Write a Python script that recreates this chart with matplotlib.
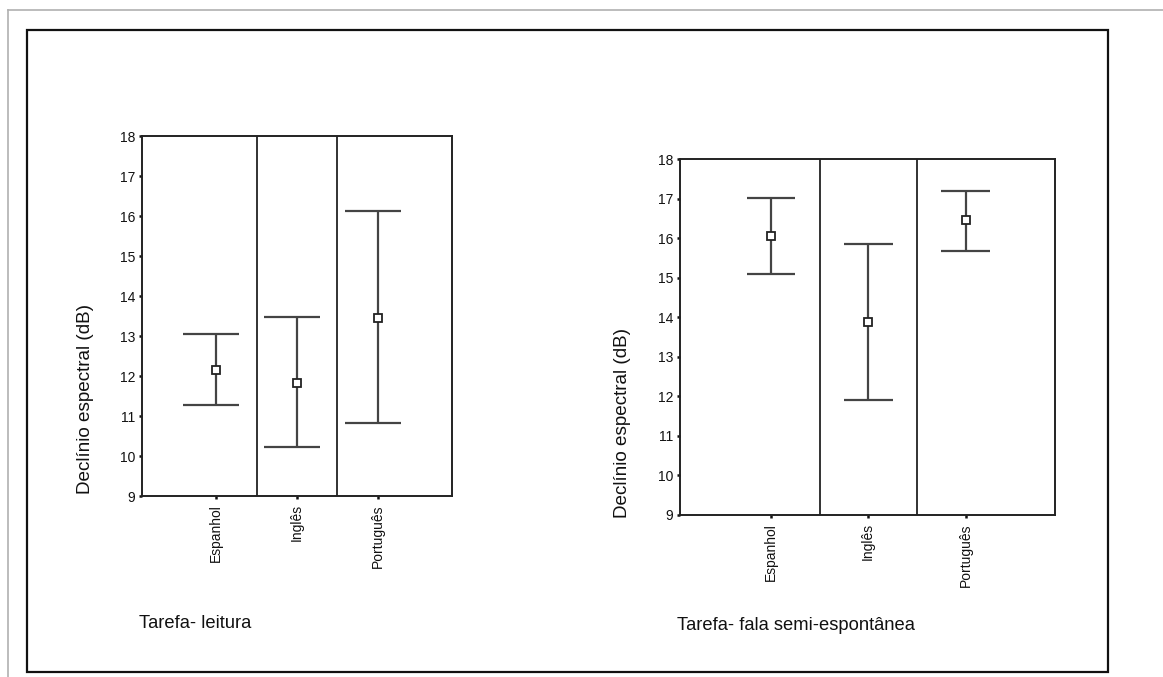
import matplotlib
matplotlib.use("Agg")
import matplotlib.pyplot as plt
from matplotlib.lines import Line2D

plt.rcParams['font.family'] = ['Liberation Sans', 'DejaVu Sans']

categories = ["Espanhol", "Inglês", "Português"]
yticks = [9, 10, 11, 12, 13, 14, 15, 16, 17, 18]

# Tarefa- leitura
leit_mean = [12.15, 11.83, 13.45]
leit_low = [11.28, 10.22, 10.82]
leit_high = [13.04, 13.48, 16.12]

# Tarefa- fala semi-espontânea
fala_mean = [16.05, 13.88, 16.46]
fala_low = [15.09, 11.91, 15.68]
fala_high = [17.03, 15.85, 17.20]

captions = ["Tarefa- leitura", "Tarefa- fala semi-espontânea"]
ylabel = "Declínio espectral (dB)"

W, H = 1163, 677
fig = plt.figure(figsize=(W / 100, H / 100), dpi=100)

# page frames
fig.add_artist(Line2D([8 / W, 1], [1 - 10 / H, 1 - 10 / H], transform=fig.transFigure,
                      color="#b0b0b0", lw=1.2))
fig.add_artist(Line2D([8 / W, 8 / W], [0, 1 - 10 / H], transform=fig.transFigure,
                      color="#b0b0b0", lw=1.2))
fig.add_artist(plt.Rectangle((27 / W, 1 - 672 / H), (1108 - 27) / W, (672 - 30) / H,
                             transform=fig.transFigure, fill=False, ec="#111111", lw=1.6))

ec = "#444444"


def panel(rect, means, lows, highs, cap_l, cap_r, xlim, lab_xy, caption, cap_xy):
    ax = fig.add_axes(rect)
    x = list(range(1, len(categories) + 1))
    ax.vlines(x, lows, highs, color=ec, lw=1.6)
    ax.hlines(lows, [v - cap_l for v in x], [v + cap_r for v in x], color=ec, lw=1.6)
    ax.hlines(highs, [v - cap_l for v in x], [v + cap_r for v in x], color=ec, lw=1.6)
    ax.plot(x, means, ls="none", marker="s", ms=5.5, mfc="white", mec="#222222", mew=1.3, zorder=3)
    for d in [1.5, 2.5]:
        ax.axvline(d, color="#222222", lw=1.3)
    ax.set_xlim(*xlim)
    ax.set_ylim(9, 18)
    ax.set_yticks(yticks)
    ax.set_yticklabels([str(t) for t in yticks])
    ax.set_xticks(x)
    ax.set_xticklabels(categories, rotation=90, va="top", ha="center")
    ax.tick_params(axis="y", direction="out", length=2.5, width=1.8, pad=2.5,
                   labelsize=10, colors="#111111")
    ax.tick_params(axis="x", direction="out", length=2.5, width=1.8, pad=3.5,
                   labelsize=10, colors="#111111")
    for s in ax.spines.values():
        s.set_linewidth(1.4)
        s.set_color("#222222")
    ax.set_ylabel(ylabel, fontsize=13.6, color="#111111")
    ax.yaxis.set_label_coords(*lab_xy)
    fig.text(cap_xy[0] / W, 1 - cap_xy[1] / H, caption, fontsize=13.2, color="#111111",
             ha="left", va="center")
    return ax


panel([142 / W, 1 - 496 / H, 310 / W, 360 / H], leit_mean, leit_low, leit_high,
      0.41, 0.28, (0.086, 3.914), (-0.155, 0.27), captions[0], (139, 623))
panel([680 / W, 1 - 515 / H, 375 / W, 355.7 / H], fala_mean, fala_low, fala_high,
      0.25, 0.25, (0.065, 3.92), (-0.13, 0.26), captions[1], (677, 625))

fig.savefig("out.png", dpi=100)
